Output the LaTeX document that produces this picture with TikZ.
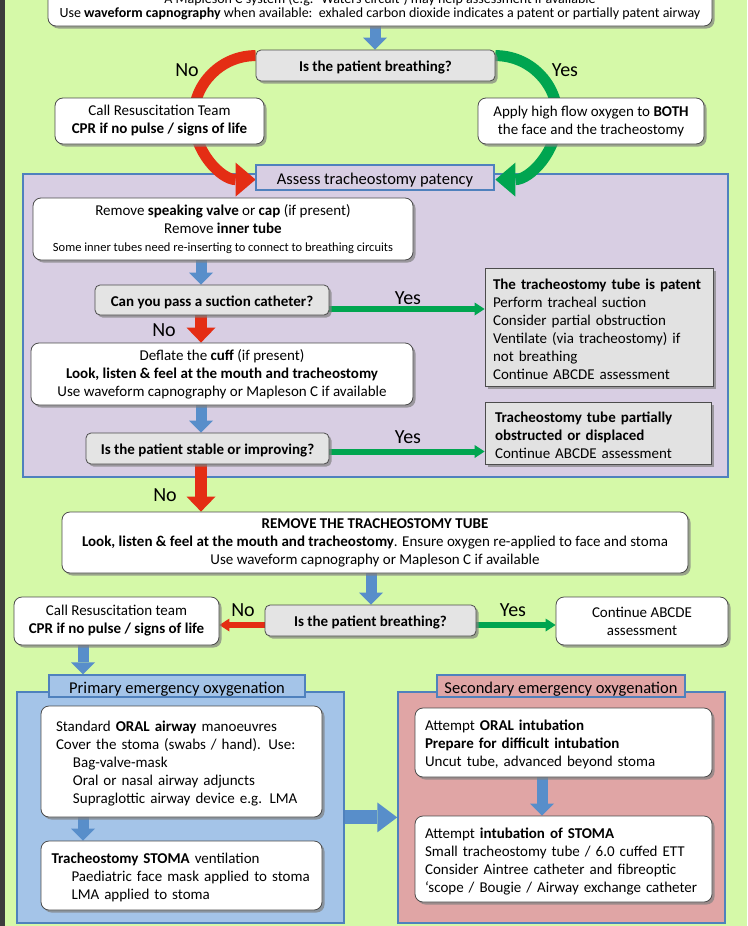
\documentclass[tikz,border=0pt]{standalone}
\usepackage{fontspec}
\setmainfont{Carlito}
\usetikzlibrary{arrows.meta,shadows}

\pgfdeclarelayer{panels}
\pgfdeclarelayer{links}
\pgfsetlayers{panels,links,main}

\definecolor{bggreen}{RGB}{213,249,168}
\definecolor{edgegray}{RGB}{60,60,60}
\definecolor{purplebg}{RGB}{216,206,227}
\definecolor{bluebg}{RGB}{164,196,232}
\definecolor{pinkbg}{RGB}{224,165,165}
\definecolor{frameblue}{RGB}{79,129,189}
\definecolor{arrowblue}{RGB}{88,142,202}
\definecolor{nored}{RGB}{228,45,20}
\definecolor{yesgreen}{RGB}{0,165,80}
\definecolor{askgray}{RGB}{228,228,228}
\definecolor{notegray}{RGB}{226,226,226}

\begin{document}
\begin{tikzpicture}[x=1pt, y=1pt,
  whitebox/.style={draw=black!70, line width=0.8pt, fill=white, rounded corners=8pt,
    drop shadow={shadow xshift=2.5pt, shadow yshift=-2.5pt, fill=black!50, opacity=0.7},
    inner sep=0pt, align=center, font=\fontsize{15}{18}\selectfont,
    execute at begin node={\rule{0pt}{15pt}}},
  askbox/.style={whitebox, fill=askgray, rounded corners=5pt,
    font=\fontsize{15}{18}\selectfont\bfseries},
  notebox/.style={whitebox, fill=notegray, rounded corners=0pt, align=left, inner xsep=10pt},
  panel/.style={draw=frameblue, line width=1.5pt},
  heading/.style={panel, inner sep=0pt, font=\fontsize{16.5}{20}\selectfont,
    execute at begin node={\rule{0pt}{17pt}}},
  answer/.style={inner sep=0pt, font=\fontsize{20}{24}\selectfont},
  bluedown/.style={draw=arrowblue, line width=11pt,
    -{Triangle[length=12pt, width=24pt, line width=0pt]}},
  blueright/.style={draw=arrowblue, line width=14pt,
    -{Triangle[length=20pt, width=30pt, line width=0pt]}},
  nodown/.style={draw=nored, line width=12pt,
    -{Triangle[length=15pt, width=29pt, line width=0pt]}},
  yesright/.style={draw=yesgreen, line width=6pt,
    -{Triangle[length=10pt, width=13pt, line width=0pt]}},
  noleft/.style={yesright, draw=nored},
  noarc/.style={draw=nored, line width=11pt,
    -{Triangle[length=20pt, width=34pt, line width=0pt]}},
  yesarc/.style={noarc, draw=yesgreen}]

\useasboundingbox (0,0) rectangle (747,-926);

\begin{pgfonlayer}{panels}
\fill[bggreen] (0,0) rectangle (747,-926);
\fill[edgegray] (0,0) rectangle (5,-926);
\node[panel, fill=purplebg, minimum width=705pt, minimum height=303pt] (patency) at (375.5,-325.5) {};
\node[panel, fill=bluebg, minimum width=327pt, minimum height=231pt] (primary) at (180.5,-807.5) {};
\node[panel, fill=pinkbg, minimum width=327pt, minimum height=231pt] (secondary) at (561.5,-807.5) {};
\end{pgfonlayer}

\coordinate (colA) at (201,0);
\coordinate (colB) at (375,0);
\coordinate (colC) at (371,0);
\coordinate (colD) at (83,0);
\coordinate (colE) at (542,0);

\node[whitebox, minimum width=664pt, minimum height=38.5pt, font=\fontsize{14}{14.5}\selectfont] (capno) at (380,-6.75)
  {A Mapleson C system (e.g. ‘Waters circuit’) may help assessment if available\\
   Use \textbf{waveform capnography} when available:\ \ exhaled carbon dioxide indicates a patent or partially patent airway};
\node[askbox, minimum width=239pt, minimum height=31pt] (breath1) at (375.5,-65.5) {Is the patient breathing?};
\node[answer] (no1) at (187,-70) {No};
\node[answer] (yes1) at (565,-70) {Yes};
\node[whitebox, minimum width=209pt, minimum height=46pt] (resus1) at (159.5,-121)
  {Call Resuscitation Team\\\textbf{CPR if no pulse / signs of life}};
\node[whitebox, minimum width=226pt, minimum height=46pt] (oxygen) at (591,-121)
  {Apply high flow oxygen to \textbf{BOTH}\\the face and the tracheostomy};
\node[heading, fill=purplebg, minimum width=238pt, minimum height=25pt] (assess) at (375,-177.5) {Assess tracheostomy patency};

\node[whitebox, minimum width=380pt, minimum height=62pt] (valve) at (223,-229)
  {Remove \textbf{speaking valve} or \textbf{cap} (if present)\\
   Remove \textbf{inner tube}\\
   {\fontsize{12.5}{18}\selectfont Some inner tubes need re-inserting to connect to breathing circuits}};
\node[askbox, minimum width=234pt, minimum height=30pt] (suction) at (212,-300) {Can you pass a suction catheter?};
\node[notebox, text width=212pt, inner xsep=8pt, minimum height=118pt] (patent) at (599,-327)
  {\textbf{The tracheostomy tube is patent}\\Perform tracheal suction\\Consider partial obstruction\\
   Ventilate (via tracheostomy) if\\not breathing\\Continue ABCDE assessment};
\node[answer] (yes2) at (408,-298) {Yes};
\node[answer] (no2) at (164,-330) {No};
\node[whitebox, minimum width=382pt, minimum height=62pt] (cuff) at (222,-374)
  {Deflate the \textbf{cuff} (if present)\\
   \textbf{Look, listen \& feel at the mouth and tracheostomy}\\
   Use waveform capnography or Mapleson C if available};
\node[askbox, minimum width=243pt, minimum height=31pt] (stable) at (207.5,-448.5) {Is the patient stable or improving?};
\node[notebox, text width=206pt, minimum height=62pt] (partial) at (598,-433)
  {\textbf{Tracheostomy tube partially}\\\textbf{obstructed or displaced}\\Continue ABCDE assessment};
\node[answer] (yes3) at (408,-437) {Yes};
\node[answer] (no3) at (165,-495) {No};

\node[whitebox, minimum width=626pt, minimum height=61pt] (remove) at (375,-542.5)
  {\textbf{REMOVE THE TRACHEOSTOMY TUBE}\\
   \textbf{Look, listen \& feel at the mouth and tracheostomy}. Ensure oxygen re-applied to face and stoma\\
   Use waveform capnography or Mapleson C if available};
\node[askbox, minimum width=211pt, minimum height=31pt] (breath2) at (370.5,-620.5) {Is the patient breathing?};
\node[whitebox, minimum width=205pt, minimum height=48pt] (resus2) at (116.5,-621)
  {Call Resuscitation team\\\textbf{CPR if no pulse / signs of life}};
\node[whitebox, minimum width=172pt, minimum height=48pt] (abcde) at (642,-621) {Continue ABCDE\\assessment};
\node[answer] (no4) at (243,-610) {No};
\node[answer] (yes4) at (513,-610) {Yes};

\node[heading, fill=bluebg, minimum width=256pt, minimum height=22pt] (primtitle) at (177,-686) {Primary emergency oxygenation};
\node[heading, fill=pinkbg, minimum width=248pt, minimum height=22pt] (sectitle) at (561,-686) {Secondary emergency oxygenation};

\node[whitebox, align=left, text width=251pt, inner xsep=15pt, minimum height=111pt] (oral) at (181.5,-761.5)
  {Standard \textbf{ORAL airway} manoeuvres\\Cover the stoma (swabs / hand). Use:\\
   \hspace*{17pt}Bag-valve-mask\\\hspace*{17pt}Oral or nasal airway adjuncts\\
   \hspace*{17pt}Supraglottic airway device e.g. LMA};
\node[whitebox, align=left, text width=260pt, inner xsep=10.5pt, minimum height=69pt] (stoma) at (181.5,-875.5)
  {\textbf{Tracheostomy STOMA} ventilation\\\hspace*{20pt}Paediatric face mask applied to stoma\\
   \hspace*{20pt}LMA applied to stoma};
\node[whitebox, align=left, text width=277pt, inner xsep=10pt, minimum height=69pt] (oralint) at (563.5,-742.5)
  {Attempt \textbf{ORAL intubation}\\\textbf{Prepare for difficult intubation}\\Uncut tube, advanced beyond stoma};
\node[whitebox, align=left, text width=277pt, inner xsep=10pt, minimum height=86pt] (stomaint) at (563.5,-859)
  {Attempt \textbf{intubation of STOMA}\\Small tracheostomy tube / 6.0 cuffed ETT\\
   Consider Aintree catheter and fibreoptic\\‘scope / Bougie / Airway exchange catheter};

\begin{pgfonlayer}{links}
\draw[noarc] ([yshift=-6pt]breath1.north west) arc[start angle=90, end angle=270, radius=62pt];
\draw[yesarc] ([yshift=-6pt]breath1.north east) arc[start angle=90, end angle=-90, radius=62pt];
\draw[bluedown] (capno.south -| colB) -- (breath1.north -| colB);
\draw[bluedown] (valve.south -| colA) -- (suction.north -| colA);
\draw[nodown] (suction.south -| colA) -- (cuff.north -| colA);
\draw[bluedown] (cuff.south -| colA) -- (stable.north -| colA);
\draw[nodown] (stable.south -| colA) -- (remove.north -| colA);
\draw[yesright] ([yshift=-9pt]suction.east) -- ([yshift=-9pt]suction.east -| patent.west);
\draw[yesright] ([yshift=-3pt]stable.east) -- ([yshift=-3pt]stable.east -| partial.west);
\draw[bluedown] (remove.south -| colC) -- (breath2.north -| colC);
\draw[noleft] ([yshift=-4.5pt]breath2.west) -- ([yshift=-4.5pt]breath2.west -| resus2.east);
\draw[yesright] ([yshift=-4.5pt]breath2.east) -- ([yshift=-4.5pt]breath2.east -| abcde.west);
\draw[bluedown] (resus2.south -| colD) -- (primtitle.north -| colD);
\draw[bluedown] (oral.south -| colD) -- (stoma.north -| colD);
\draw[bluedown] (oralint.south -| colE) -- (stomaint.north -| colE);
\draw[blueright] (primary.east |- oral.south) -- (secondary.west |- oral.south);
\end{pgfonlayer}
\end{tikzpicture}
\end{document}
